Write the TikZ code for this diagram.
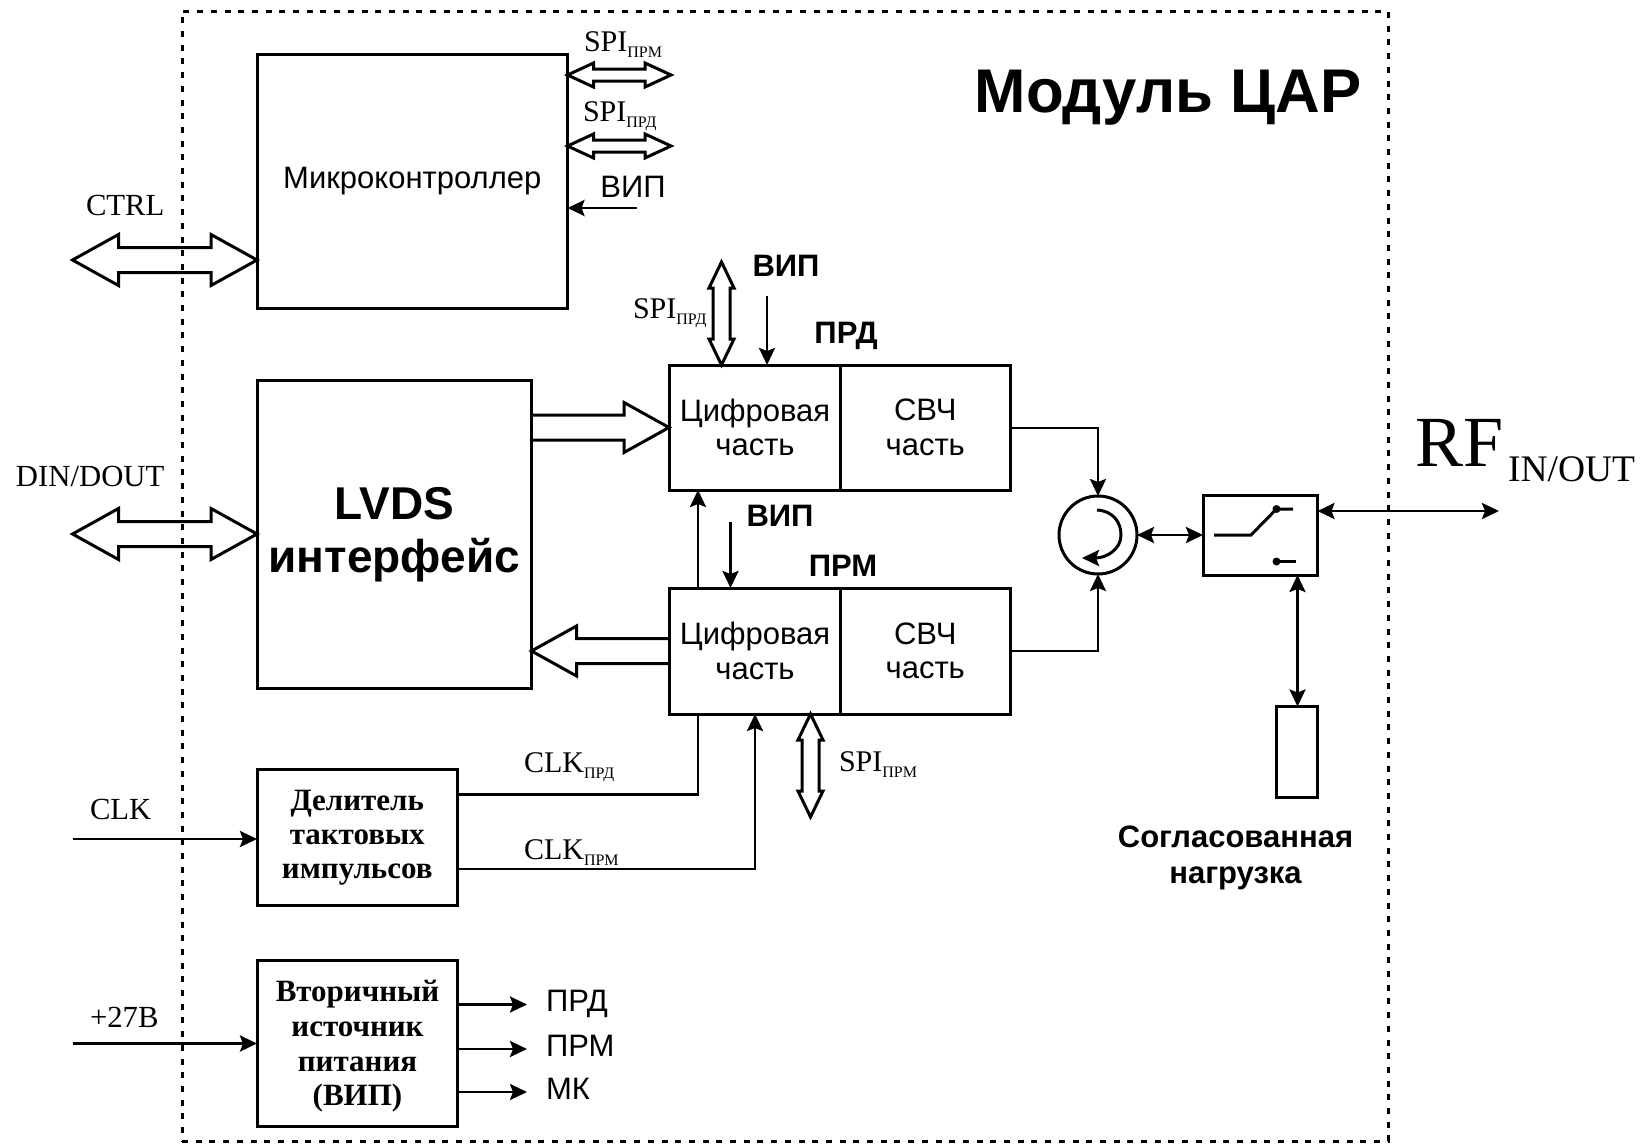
\documentclass[tikz,border=0pt]{standalone}
\usepackage{fontspec}
\setmainfont{Liberation Serif}
\newfontfamily\arl{Liberation Sans}
\usetikzlibrary{arrows.meta,calc}
\newcommand{\fs}[2]{\fontsize{#1}{#2}\selectfont}
\newcommand{\sbt}[2]{#1\raisebox{-6pt}{\fs{16}{16}#2}}
% hollow double-headed bus: horizontal
\newcommand{\dblH}[5]{\draw[bus] (#1) -- ($(#1)+(#3,-#4)$) -- ($(#1)+(#3,-#5)$) -- ($(#2)+(-#3,-#5)$) -- ($(#2)+(-#3,-#4)$) -- (#2) -- ($(#2)+(-#3,#4)$) -- ($(#2)+(-#3,#5)$) -- ($(#1)+(#3,#5)$) -- ($(#1)+(#3,#4)$) -- cycle;}
% hollow double-headed bus: vertical
\newcommand{\dblV}[5]{\draw[bus] (#1) -- ($(#1)+(-#4,#3)$) -- ($(#1)+(-#5,#3)$) -- ($(#2)+(-#5,-#3)$) -- ($(#2)+(-#4,-#3)$) -- (#2) -- ($(#2)+(#4,-#3)$) -- ($(#2)+(#5,-#3)$) -- ($(#1)+(#5,#3)$) -- ($(#1)+(#4,#3)$) -- cycle;}
% hollow single-headed bus: head at #2, horizontal; #3 = +1/-1 direction of travel
\newcommand{\sglH}[3]{\draw[bus] (#1) ++(0,-12.5) -- ($(#2)+(#3*-45,-12.5)$) -- ($(#2)+(#3*-45,-25)$) -- (#2) -- ($(#2)+(#3*-45,25)$) -- ($(#2)+(#3*-45,12.5)$) -- ($(#1)+(0,12.5)$);}
\tikzset{
  box/.style={draw,line width=3pt,inner sep=0pt,outer sep=0pt,anchor=north west,align=center},
  ssf/.style={font=\arl\fs{31}{34.5}},
  sbf/.style={font=\arl\bfseries\fs{31}{35.5}},
  serb/.style={font=\bfseries\fs{31}{34}},
  lab/.style={anchor=base west,inner sep=0pt,outer sep=0pt,font=\fs{30.7}{34}},
  free/.style={inner sep=0pt,outer sep=0pt,align=center},
  bus/.style={line width=3pt,line join=miter,miter limit=10},
  wire/.style={line width=2.7pt},
  arr/.style={wire,-{Stealth[length=17pt,width=16pt,inset=3pt]}},
  arrr/.style={wire,{Stealth[length=17pt,width=16pt,inset=3pt]}-{Stealth[length=17pt,width=16pt,inset=3pt]}},
  frame/.style={draw,line width=3pt,dash pattern=on 6pt off 7.7pt,inner sep=0pt,outer sep=0pt,anchor=north west}
}
\begin{document}
\begin{tikzpicture}[x=1pt,y=-1pt]
\useasboundingbox (0,0) rectangle (1646,1143);
\fill[white] (0,0) rectangle (1646,1143);
\node[frame,minimum width=1206pt,minimum height=1130pt] (frm) at (182,11) {};

% blocks
\node[box,ssf,minimum width=310.5pt,minimum height=254pt] (micro) at (257,54) {Микроконтроллер};
\node[box,font=\arl\bfseries\fs{46}{53},minimum width=274.5pt,minimum height=308.5pt] (lvds) at (257,380) {LVDS\\интерфейс};
\node[box,ssf,minimum width=171pt,minimum height=125pt] (dtx) at (669.5,365) {Цифровая\\часть};
\node[box,ssf,minimum width=169.5pt,minimum height=125pt] (stx) at (840.5,365) {СВЧ\\часть};
\node[box,ssf,minimum width=171pt,minimum height=126pt] (drx) at (669.5,588) {Цифровая\\часть};
\node[box,ssf,minimum width=169.5pt,minimum height=126pt] (srx) at (840.5,588) {СВЧ\\часть};
\node[box,serb,minimum width=200.5pt,minimum height=136pt] (div) at (257,769.5) {Делитель\\тактовых\\импульсов};
\node[box,minimum width=200.5pt,minimum height=165.5pt] (psu) at (257,960.5) {};
\node[free,serb,font=\bfseries\fs{31}{34.7}] (psut) at (357.5,1046.5) {Вторичный\\источник\\питания\\(ВИП)};
\node[box,minimum width=114.5pt,minimum height=80pt] (sw) at (1203,495) {};
\node[box,minimum width=40.5pt,minimum height=91pt] (load) at (1276.5,706.5) {};
\node[draw,circle,line width=3pt,minimum size=78pt,inner sep=0pt,outer sep=0pt] (circ) at (1098,535) {};

% circulator inner arrow
\draw[arr,line width=3pt] (1097,510) .. controls (1113,511) and (1121,522) .. (1121,535) .. controls (1121,549) and (1107,558) .. (1082,558);

% switch contacts
\coordinate (swa) at (1214,535);
\coordinate (swb) at (1251,535);
\coordinate (swc) at (1276.5,509);
\coordinate (swd) at (1293,509);
\coordinate (swe) at (1276.5,561.5);
\coordinate (swf) at (1296,561.5);
\draw[wire,line width=3pt] (swa) -- (swb) -- (swc) -- (swd);
\draw[wire,line width=3pt] (swe) -- (swf);
\fill (swc) circle (4pt);
\fill (swe) circle (4pt);

% free connector ends
\coordinate (spiA) at (671,75);
\coordinate (spiB) at (671,146);
\coordinate (vipM) at (636.5,208);
\coordinate (ctrlL) at (72.5,260);
\coordinate (dinL) at (72.5,534);
\coordinate (spiTop) at (721.5,262);
\coordinate (spiBot) at (810.5,817);
\coordinate (vipT) at (767,296);
\coordinate (vipR) at (730.5,521.5);
\coordinate (clkL) at (72.5,839);
\coordinate (pwrL) at (72.5,1043.5);
\coordinate (o1) at (527,1004.5);
\coordinate (o2) at (527,1049);
\coordinate (o3) at (527,1092);
\coordinate (rfR) at (1499,511);
\coordinate (ltx) at (669,427.5);
\coordinate (lrx) at (669,651);
\coordinate (cprd) at (698,794.5);
\coordinate (cprm) at (755,869);
\coordinate (jtx) at (1098,428);
\coordinate (jrx) at (1098,651);
\coordinate (lsw) at (1297.5,640);

% hollow buses
\dblH{micro.east |- spiA}{spiA}{26}{12}{6}
\dblH{micro.east |- spiB}{spiB}{26}{12}{6}
\dblH{ctrlL}{micro.west |- ctrlL}{46}{25.5}{12.5}
\dblH{dinL}{lvds.west |- dinL}{46}{25.5}{12.5}
\dblV{spiTop}{spiTop |- dtx.north}{26}{12.5}{8.5}
\dblV{spiBot |- drx.south}{spiBot}{26}{12.5}{8.5}
\sglH{lvds.east |- ltx}{ltx}{1}
\sglH{lrx}{lvds.east |- lrx}{-1}

% wires
\draw[arr] (vipM) -- (micro.east |- vipM);
\draw[arr] (vipT) -- (vipT |- dtx.north);
\draw[arr] (vipR) -- (vipR |- drx.north);
\draw[wire] (div.east |- cprd) -- (cprd) -- (cprd |- drx.south);
\draw[arr] (cprd |- drx.north) -- (cprd |- dtx.south);
\draw[arr] (div.east |- cprm) -- (cprm) -- (cprm |- drx.south);
\draw[arr] (stx.east |- jtx) -- (jtx) -- (circ.north);
\draw[arr] (srx.east |- jrx) -- (jrx) -- (circ.south);
\draw[arrr] (circ.east) -- (sw.west |- circ.east);
\draw[arrr] (sw.east |- rfR) -- (rfR);
\draw[arrr] (lsw |- load.north) -- (lsw |- sw.south);
\draw[arr] (clkL) -- (div.west |- clkL);
\draw[arr] (pwrL) -- (psu.west |- pwrL);
\draw[arr] (psu.east |- o1) -- (o1);
\draw[arr] (psu.east |- o2) -- (o2);
\draw[arr] (psu.east |- o3) -- (o3);

% labels
\node[free,font=\arl\bfseries\fs{61.7}{70}] (title) at (1168,98) {Модуль ЦАР};
\node[lab,font=\fs{30}{34}] (t1) at (584,51) {\sbt{SPI}{ПРМ}};
\node[lab,font=\fs{30}{34}] (t2) at (583,121) {\sbt{SPI}{ПРД}};
\node[free,ssf] (t3) at (633,187) {ВИП};
\node[lab] (t4) at (86,215) {CTRL};
\node[lab] (t5) at (16,486) {DIN/DOUT};
\node[lab,font=\fs{30}{34}] (t6) at (633,318) {\sbt{SPI}{ПРД}};
\node[free,sbf] (t7) at (786,265.5) {ВИП};
\node[free,sbf] (t8) at (846,335.5) {ПРД};
\node[free,sbf] (t9) at (780,516) {ВИП};
\node[free,sbf] (t10) at (843,566) {ПРМ};
\node[lab,font=\fs{30}{34}] (t11) at (839,771) {\sbt{SPI}{ПРМ}};
\node[lab,font=\fs{30}{34}] (t12) at (524,772.5) {\sbt{CLK}{ПРД}};
\node[lab,font=\fs{30}{34}] (t13) at (524,859) {\sbt{CLK}{ПРМ}};
\node[lab] (t14) at (90,819) {CLK};
\node[lab] (t15) at (90,1027) {+27В};
\node[free,ssf,anchor=west] (t16) at (546,1003.5) {ПРД};
\node[free,ssf,anchor=west] (t17) at (546,1046) {ПРМ};
\node[free,ssf,anchor=west] (t18) at (546,1089) {МК};
\node[free,sbf] (t19) at (1235.5,858) {Согласованная\\нагрузка};
\node[lab] (t20) at (1415,466.5) {\fs{72}{80}RF\hspace{5pt}\raisebox{-15pt}{\fs{37.5}{40}IN/OUT}};
\end{tikzpicture}
\end{document}
